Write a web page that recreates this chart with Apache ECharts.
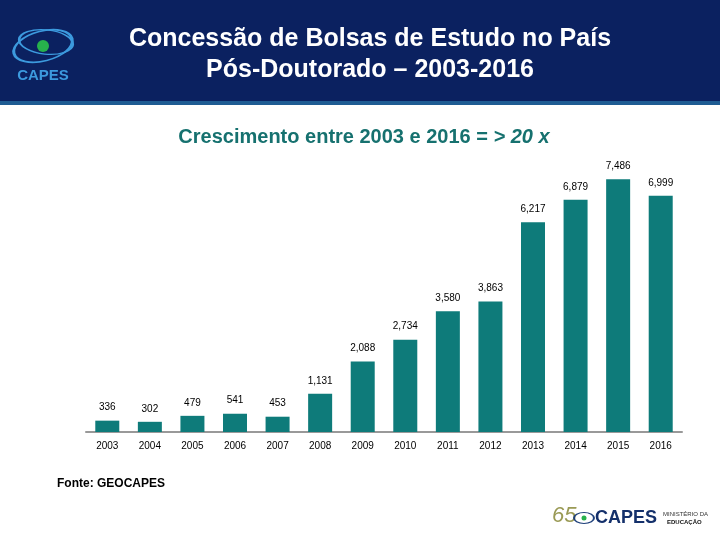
<!DOCTYPE html>
<html>
<head>
<meta charset="utf-8">
<script src="https://cdn.jsdelivr.net/npm/echarts@6/dist/echarts.min.js"></script>
<style>
  html, body { margin: 0; padding: 0; background: #fff; }
  #main { width: 720px; height: 540px; }
</style>
</head>
<body>
<div id="main"></div>
<script>
// anos e bolsas concedidas (pós-doutorado)
var anos = ['2003', '2004', '2005', '2006', '2007', '2008', '2009', '2010', '2011', '2012', '2013', '2014', '2015', '2016'];
var bolsas = [336, 302, 479, 541, 453, 1131, 2088, 2734, 3580, 3863, 6217, 6879, 7486, 6999];

var corBarra = '#0e7b7a';
var fonte = 'Liberation Sans, Arial, sans-serif';

var chart = echarts.init(document.getElementById('main'));
var option = {
    backgroundColor: '#ffffff',
    animation: false,
    title: [
        {
            text: 'Concessão de Bolsas de Estudo no País\nPós-Doutorado – 2003-2016',
            left: 365,
            top: 19,
            textAlign: 'center',
            textStyle: { color: '#ffffff', fontSize: 25, fontWeight: 'bold', fontFamily: fonte, lineHeight: 31 }
        },
        {
            text: '{a|Crescimento entre 2003 e 2016 = }{b|> 20 x}',
            left: 359,
            top: 122,
            textAlign: 'center',
            textStyle: {
                rich: {
                    a: { color: '#16716f', fontSize: 20, fontWeight: 'bold', fontFamily: fonte },
                    b: { color: '#16716f', fontSize: 20, fontWeight: 'bold', fontStyle: 'italic', fontFamily: fonte }
                }
            }
        }
    ],
    grid: {
        left: 86,
        right: 38,
        top: 162,
        bottom: 108
    },
    xAxis: {
        type: 'category',
        data: anos,
        axisLine: { lineStyle: { color: '#999999', width: 2 } },
        axisTick: { show: false },
        axisLabel: { color: '#000000', fontSize: 10, fontFamily: fonte, margin: 9 }
    },
    yAxis: {
        type: 'value',
        min: 0,
        max: 8000,
        show: false,
        splitLine: { show: false }
    },
    series: [
        {
            type: 'bar',
            data: bolsas,
            barWidth: 24,
            itemStyle: { color: corBarra },
            label: {
                show: true,
                position: 'top',
                distance: 8,
                color: '#000000',
                fontSize: 10,
                fontFamily: fonte,
                formatter: function (p) {
                    return p.value.toLocaleString('en-US');
                }
            }
        }
    ],
    graphic: [
        { type: 'rect', z: -1, shape: { x: 0, y: 0, width: 720, height: 101 }, style: { fill: '#0b2160' } },
        { type: 'rect', z: -1, shape: { x: 0, y: 101, width: 720, height: 4 }, style: { fill: '#1f5c93' } },
        // logo CAPES no topo
        { type: 'circle', x: 43, y: 46, scaleX: 1, scaleY: 0.5, rotation: 0.25, shape: { cx: 0, cy: 0, r: 30 }, style: { fill: 'none', stroke: '#3c9ade', lineWidth: 3 } },
        { type: 'circle', x: 46, y: 42, scaleX: 1, scaleY: 0.45, rotation: -0.1, shape: { cx: 0, cy: 0, r: 27 }, style: { fill: 'none', stroke: '#3c9ade', lineWidth: 2.5 } },
        { type: 'circle', shape: { cx: 43, cy: 46, r: 6 }, style: { fill: '#27b14c' } },
        { type: 'text', x: 43, y: 68, style: { text: 'CAPES', fill: '#3c9ade', font: 'bold 15px ' + fonte, textAlign: 'center' } },
        // fonte
        { type: 'text', x: 57, y: 478, style: { text: 'Fonte: GEOCAPES', fill: '#000000', font: 'bold 12px ' + fonte } },
        // logo inferior
        { type: 'text', x: 552, y: 505, style: { text: '65', fill: '#9a9a55', font: 'italic 22px ' + fonte } },
        { type: 'circle', x: 584, y: 518, scaleX: 1, scaleY: 0.55, shape: { cx: 0, cy: 0, r: 10 }, style: { fill: 'none', stroke: '#1d3f7a', lineWidth: 2 } },
        { type: 'circle', shape: { cx: 584, cy: 518, r: 2.5 }, style: { fill: '#27b14c' } },
        { type: 'text', x: 595, y: 509, style: { text: 'CAPES', fill: '#14306b', font: 'bold 18px ' + fonte } },
        { type: 'text', x: 663, y: 511, style: { text: 'MINISTÉRIO DA', fill: '#333333', font: '6px ' + fonte } },
        { type: 'text', x: 667, y: 519, style: { text: 'EDUCAÇÃO', fill: '#111111', font: 'bold 6px ' + fonte } }
    ]
};
chart.setOption(option);
</script>
</body>
</html>
